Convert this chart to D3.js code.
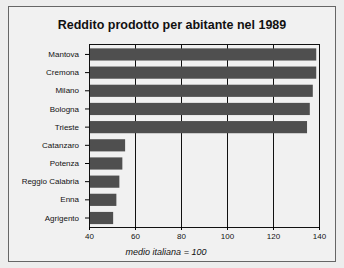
<!DOCTYPE html>
<html>
<head>
<meta charset="utf-8">
<script src="https://cdn.jsdelivr.net/npm/d3@7"></script>
<style>
  body { margin: 0; background: #ededed; }
  svg { display: block; }
  text { font-family: "Liberation Sans", "DejaVu Sans", sans-serif; fill: #111; }
</style>
</head>
<body>
<svg width="344" height="268"></svg>
<script>
let cities = ['Mantova', 'Cremona', 'Milano', 'Bologna', 'Trieste',
  'Catanzaro', 'Potenza', 'Reggio Calabria', 'Enna', 'Agrigento']
let values = [138.8, 138.8, 137.3, 136, 134.8, 55.7, 54.5, 53.2, 51.9, 50.5]
let xTicks = [40, 60, 80, 100, 120, 140]

let width = 344
let height = 268
let margin = { top: 44, bottom: 41, left: 89, right: 25 }

let svg = d3.select('svg')

// outer frame
svg.append('rect')
  .attr('x', 8.5).attr('y', 6.5)
  .attr('width', 327).attr('height', 255)
  .attr('fill', '#f1f1f1')
  .attr('stroke', '#666')
  .attr('stroke-width', 1)

svg.append('text')
  .attr('x', 172).attr('y', 29)
  .attr('text-anchor', 'middle')
  .attr('font-size', 12.5)
  .attr('font-weight', 'bold')
  .text('Reddito prodotto per abitante nel 1989')

let xScale = d3.scaleLinear()
  .domain([40, 140])
  .range([margin.left, width - margin.right])

let yScale = d3.scaleBand()
  .domain(cities)
  .range([margin.top, height - margin.bottom])
  .paddingInner(0.33)
  .paddingOuter(0.2)
  .align(0.6)

// gridlines
svg.append('g')
  .selectAll('line')
  .data(xTicks.slice(1))
  .join('line')
  .attr('x1', d => Math.round(xScale(d)) + 0.5)
  .attr('x2', d => Math.round(xScale(d)) + 0.5)
  .attr('y1', margin.top)
  .attr('y2', height - margin.bottom)
  .attr('stroke', '#111')
  .attr('stroke-width', 1)

// top border
svg.append('line')
  .attr('x1', xScale(40)).attr('x2', Math.round(xScale(140)) + 0.5)
  .attr('y1', margin.top + 0.5).attr('y2', margin.top + 0.5)
  .attr('stroke', '#111')

svg.append('g')
  .selectAll('rect')
  .data(values)
  .join('rect')
  .attr('x', xScale(40) + 1)
  .attr('y', (d, i) => yScale(cities[i]))
  .attr('width', d => xScale(d) - xScale(40) - 1)
  .attr('height', yScale.bandwidth())
  .attr('fill', '#4f4f4f')

let xAxis = d3.axisBottom(xScale)
  .tickValues(xTicks)
  .tickSize(3)
  .tickPadding(3)
let yAxis = d3.axisLeft(yScale)
  .tickSize(4)
  .tickPadding(6)

let gx = svg.append('g')
  .attr('transform', 'translate(' + [0, height - margin.bottom] + ')')
  .call(xAxis)
gx.select('.domain').attr('stroke', '#111')
gx.selectAll('text').attr('font-size', 8).attr('fill', '#111')

let gy = svg.append('g')
  .attr('transform', 'translate(' + [margin.left, 0] + ')')
  .call(yAxis)
gy.select('.domain').attr('d', 'M0.5,' + margin.top + 'V' + (height - margin.bottom)).attr('stroke', '#111')
gy.selectAll('text').attr('font-size', 8).attr('fill', '#111')

svg.append('text')
  .attr('x', 166).attr('y', 255)
  .attr('text-anchor', 'middle')
  .attr('font-size', 9)
  .attr('font-style', 'italic')
  .text('medio italiana = 100')
</script>
</body>
</html>
